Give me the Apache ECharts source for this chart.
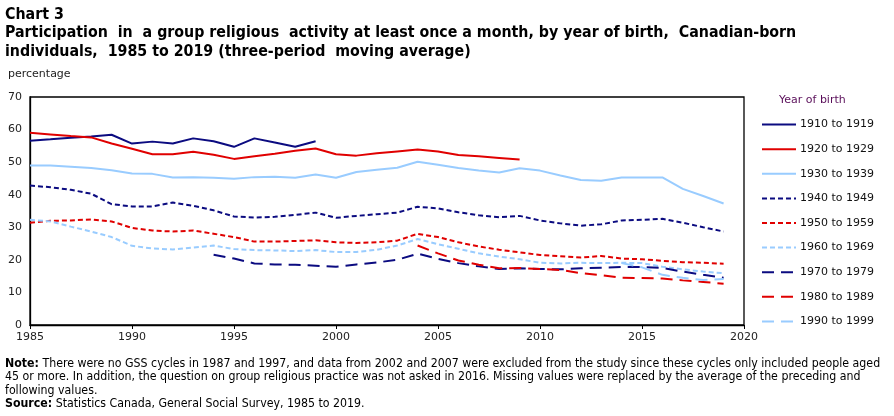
<!DOCTYPE html>
<html>
<head>
<meta charset="utf-8">
<script src="https://cdn.jsdelivr.net/npm/echarts@6/dist/echarts.min.js"></script>
<style>
html,body{margin:0;padding:0;background:#fff;}
#chart{width:894px;height:416px;}
</style>
</head>
<body>
<div id="chart"></div>
<script>
const years = [];
for (let y = 1985; y <= 2019; y++) years.push(y);

const seriesNames = ["1910 to 1919","1920 to 1929","1930 to 1939","1940 to 1949","1950 to 1959","1960 to 1969","1970 to 1979","1980 to 1989","1990 to 1999"];
const xTicks = [1985,1990,1995,2000,2005,2010,2015,2020];
const yTicks = [0,10,20,30,40,50,60,70];

const _ = null;
const s1910 = [56.6,57.0,57.5,57.9,58.4,55.7,56.3,55.7,57.3,56.4,54.7,57.3,56.0,54.7,56.4,_,_,_,_,_,_,_,_,_,_,_,_,_,_,_,_,_,_,_,_];
const s1920 = [59.0,58.5,58.0,57.6,55.7,54.1,52.4,52.4,53.2,52.3,51.0,51.8,52.6,53.5,54.2,52.4,52.0,52.7,53.3,53.9,53.3,52.2,51.8,51.3,50.8,_,_,_,_,_,_,_,_,_,_];
const s1930 = [49.0,49.0,48.6,48.2,47.5,46.5,46.4,45.3,45.4,45.2,44.9,45.4,45.5,45.2,46.2,45.2,47.0,47.7,48.3,50.1,49.2,48.2,47.4,46.8,48.1,47.4,45.9,44.5,44.3,45.3,45.3,45.3,41.8,39.6,37.3];
const s1940 = [42.8,42.3,41.5,40.3,37.1,36.4,36.4,37.6,36.6,35.2,33.3,33.0,33.2,33.8,34.5,32.9,33.5,34.0,34.5,36.3,35.8,34.6,33.7,33.1,33.5,32.1,31.2,30.5,30.9,32.1,32.3,32.6,31.4,30.0,28.7];
const s1950 = [31.4,32.0,32.1,32.4,31.8,29.8,29.0,28.7,29.0,28.0,27.0,25.6,25.6,25.8,26.0,25.4,25.2,25.4,25.9,28.0,27.0,25.4,24.1,23.1,22.3,21.5,21.1,20.7,21.2,20.4,20.2,19.7,19.3,19.1,18.8];
const s1960 = [32.3,31.8,30.2,28.7,27.0,24.3,23.5,23.2,23.8,24.4,23.3,23.0,22.9,22.7,23.0,22.4,22.4,23.1,24.4,26.4,24.8,23.4,22.0,21.0,20.2,19.1,18.9,19.1,19.0,19.1,19.0,17.9,17.1,16.4,15.9];
const s1970 = [_,_,_,_,_,_,_,_,_,21.6,20.4,18.9,18.6,18.5,18.2,17.9,18.6,19.2,20.0,21.9,20.3,19.0,18.0,17.2,17.4,17.2,17.1,17.4,17.6,17.8,17.8,17.5,16.4,15.4,14.5];
const s1980 = [_,_,_,_,_,_,_,_,_,_,_,_,_,_,_,_,_,_,_,24.4,22.0,19.8,18.5,17.4,17.5,17.2,16.9,15.9,15.3,14.5,14.4,14.3,13.7,13.2,12.7];
const s1990 = [_,_,_,_,_,_,_,_,_,_,_,_,_,_,_,_,_,_,_,_,_,_,_,_,_,_,_,_,_,19.0,17.7,15.4,14.5,13.8,14.1];

const allValues = [s1910,s1920,s1930,s1940,s1950,s1960,s1970,s1980,s1990];

const NAVY = '#0b0b80', RED = '#e00000', LIGHT = '#99ccff';
const colors = [NAVY, RED, LIGHT, NAVY, RED, LIGHT, NAVY, RED, LIGHT];
const SHORT = [5,3], LONG = [12,7];
const dashes = ['solid','solid','solid',SHORT,SHORT,SHORT,LONG,LONG,LONG];

const FONT = 'DejaVu Sans, Verdana, sans-serif';
const COND = 'DejaVu Sans Condensed, DejaVu Sans, sans-serif';
const chart = echarts.init(document.getElementById('chart'), null, {renderer:'canvas'});

const series = seriesNames.map((name, i) => ({
  name: name,
  type: 'line',
  data: years.map((y, k) => [y, allValues[i][k]]),
  symbol: 'none',
  showSymbol: false,
  connectNulls: false,
  color: colors[i],
  lineStyle: {color: colors[i], width: 2, type: dashes[i]},
  itemStyle: {color: colors[i]},
  emphasis: {disabled: true},
  animation: false
}));

chart.setOption({
  animation: false,
  backgroundColor: '#fff',
  textStyle: {fontFamily: FONT},
  grid: {left: 30, right: 150, top: 97, bottom: 91, show: true, borderColor: '#000', borderWidth: 1.3, backgroundColor: 'transparent'},
  xAxis: {
    type: 'value', min: xTicks[0], max: xTicks[xTicks.length-1], interval: 5,
    axisLine: {show: true, lineStyle: {color: '#000', width: 1.3}},
    axisTick: {show: true, length: 4, lineStyle: {color: '#000'}},
    axisLabel: {color: '#222', fontSize: 11, fontFamily: FONT, margin: 7, formatter: v => String(v)},
    splitLine: {show: false}
  },
  yAxis: {
    type: 'value', min: yTicks[0], max: yTicks[yTicks.length-1], interval: 10,
    axisLine: {show: true, lineStyle: {color: '#000', width: 1.3}},
    axisTick: {show: false},
    axisLabel: {color: '#222', fontSize: 11, fontFamily: FONT, margin: 8},
    splitLine: {show: false}
  },
  legend: {
    orient: 'vertical', left: 756, top: 114,
    itemWidth: 34, itemHeight: 14, itemGap: 13.4,
    data: seriesNames,
    itemStyle: {opacity: 0},
    textStyle: {color: '#111', fontSize: 11, fontFamily: FONT, padding: [0,0,0,-1]},
    selectedMode: false
  },
  title: [{
    text: 'Chart 3',
    left: 0, top: 2,
    textStyle: {fontSize: 15.8, fontWeight: 'bold', color: '#000', fontFamily: COND}
  },{
    text: 'Participation  in  a group religious  activity at least once a month, by year of birth,  Canadian-born\nindividuals,  1985 to 2019 (three-period  moving average)',
    left: 0, top: 19,
    textStyle: {fontSize: 15.8, fontWeight: 'bold', color: '#000', lineHeight: 18.5, fontFamily: COND}
  }],
  graphic: [
    {type: 'text', left: 8, top: 69, style: {text: 'percentage', fill: '#222', font: '11px DejaVu Sans, sans-serif'}},
    {type: 'text', left: 779, top: 95, style: {text: 'Year of birth', fill: '#5a0f5a', font: '11px DejaVu Sans, sans-serif'}},
    {type: 'text', left: 5, top: 357.5, style: {
      rich: {b: {fontWeight: 'bold', fontSize: 12.25, fontFamily: COND, fill: '#000', lineHeight: 13.5},
             n: {fontSize: 12.25, fontFamily: COND, fill: '#000', lineHeight: 13.5}},
      text: '{b|Note:}{n| There were no GSS cycles in 1987 and 1997, and data from 2002 and 2007 were excluded from the study since these cycles only included people aged}\n{n|45 or more. In addition, the question on group religious practice was not asked in 2016. Missing values were replaced by the average of the preceding and}\n{n|following values.}\n{b|Source:}{n| Statistics Canada, General Social Survey, 1985 to 2019.}'
    }}
  ],
  series: series
});
</script>
</body>
</html>
